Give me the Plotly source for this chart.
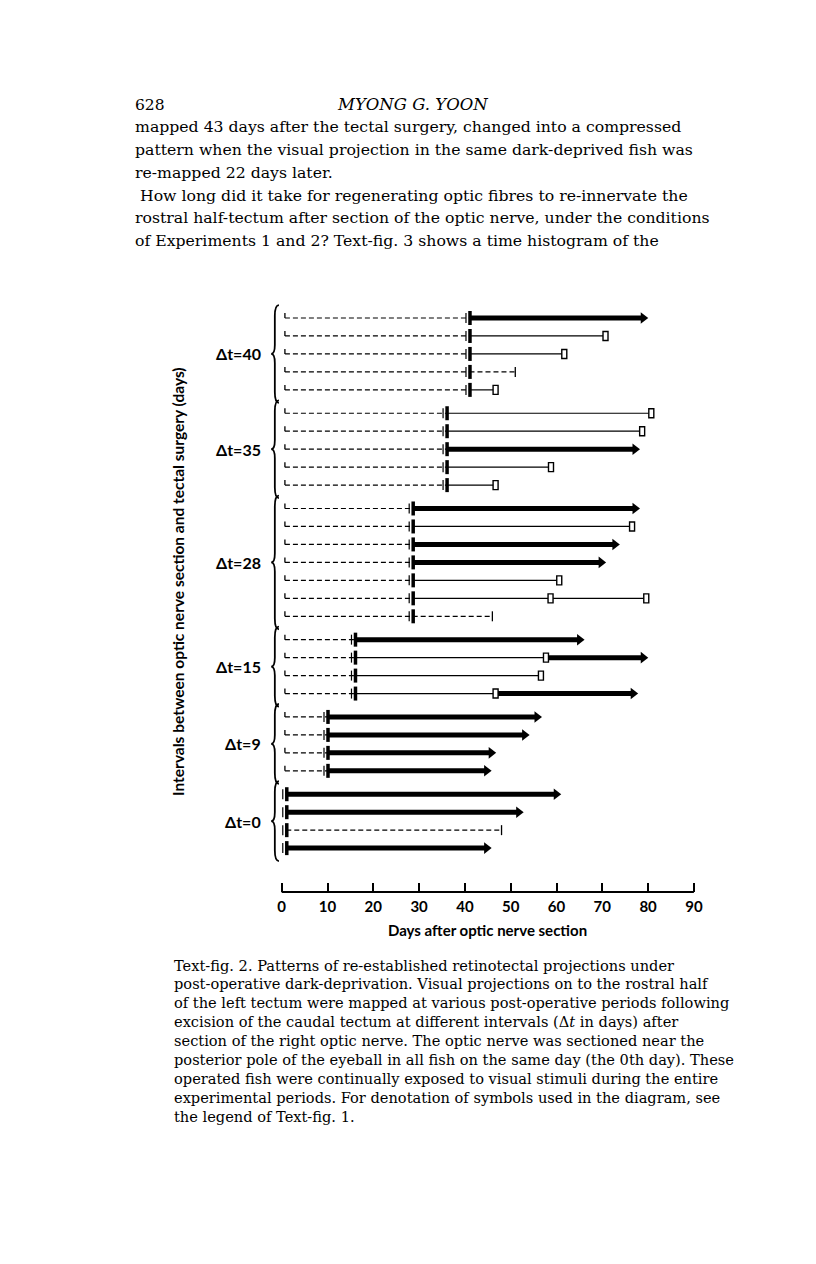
import math
import plotly.graph_objects as go

# ---- data (days after optic nerve section) ----
group_labels = ["Δt=40", "Δt=35", "Δt=28", "Δt=15", "Δt=9", "Δt=0"]
surgery_day = [41, 36, 28.6, 16, 10, 1]
start_day = 0.7

# after the surgery mark each row is a list of (kind, end day)
# thin -> ends with open box, thick -> ends with arrow, dash -> ends with a bar
rows_dt40 = [[("thick", 80.2)], [("thin", 70.7)], [("thin", 61.7)], [("dash", 51)], [("thin", 46.7)]]
rows_dt35 = [[("thin", 80.7)], [("thin", 78.7)], [("thick", 78.4)], [("thin", 58.8)], [("thin", 46.7)]]
rows_dt28 = [[("thick", 78.4)], [("thin", 76.5)], [("thick", 74)], [("thick", 71)], [("thin", 60.6)],
             [("thin", 58.7), ("thin", 79.6)], [("dash", 46)]]
rows_dt15 = [[("thick", 66.3)], [("thin", 57.7), ("thick", 80.2)], [("thin", 56.6)],
             [("thin", 46.7), ("thick", 78)]]
rows_dt9 = [[("thick", 57)], [("thick", 54.3)], [("thick", 47)], [("thick", 46)]]
rows_dt0 = [[("thick", 61.2)], [("thick", 53)], [("dash", 48)], [("thick", 46)]]
all_rows = [rows_dt40, rows_dt35, rows_dt28, rows_dt15, rows_dt9, rows_dt0]

x_ticks = [0, 10, 20, 30, 40, 50, 60, 70, 80, 90]

header_left = "628"
header_title = "<i>MYONG G. YOON</i>"
body_lines = [
    "mapped 43 days after the tectal surgery, changed into a compressed",
    "pattern when the visual projection in the same dark-deprived fish was",
    "re-mapped 22 days later.",
    " How long did it take for regenerating optic fibres to re-innervate the",
    "rostral half-tectum after section of the optic nerve, under the conditions",
    "of Experiments 1 and 2? Text-fig. 3 shows a time histogram of the",
]
caption_lines = [
    "Text-fig. 2. Patterns of re-established retinotectal projections under",
    "post-operative dark-deprivation. Visual projections on to the rostral half",
    "of the left tectum were mapped at various post-operative periods following",
    "excision of the caudal tectum at different intervals (Δ<i>t</i> in days) after",
    "section of the right optic nerve. The optic nerve was sectioned near the",
    "posterior pole of the eyeball in all fish on the same day (the 0th day). These",
    "operated fish were continually exposed to visual stimuli during the entire",
    "experimental periods. For denotation of symbols used in the diagram, see",
    "the legend of Text-fig. 1.",
]

# ---- page geometry (the page body adds an 8 px margin) ----
W, H = 816, 1264
OFF = 8
X0_PX, PX_DAY = 281.7 - OFF, 4.58
ROW0_PX, ROW_PX, GAP = 318 - OFF, 17.97, 1.3
AXIS_PX = 892

def px_x(p):
    return (p - OFF) / W

def px_y(p):
    return 1 - (p - OFF) / H

# row positions
row_y = []
y = 0.0
for gi, rows in enumerate(all_rows):
    if gi > 0:
        y += GAP
    ys = []
    for r in rows:
        ys.append(y)
        y += 1
    y -= 1
    row_y.append(ys)

fig = go.Figure()
shapes = []

dash_x, dash_y = [], []
thin_x, thin_y = [], []
thick_x, thick_y = [], []
head_x, head_y = [], []
HEAD_SIZE = 10
tip = (HEAD_SIZE / 2) * 2 / math.sqrt(3) / PX_DAY


def vbar(xv, yv, dx, half, width, up_only=False):
    shapes.append(dict(type="line", xref="x", yref="y", xsizemode="pixel", ysizemode="pixel",
                       xanchor=xv, yanchor=yv, x0=dx, x1=dx,
                       y0=0 if up_only else -half, y1=half,
                       line=dict(color="black", width=width)))


for gi, rows in enumerate(all_rows):
    s = surgery_day[gi]
    for ri, segs in enumerate(rows):
        yv = row_y[gi][ri]
        if s - start_day > 2:
            dash_x += [start_day, s, None]
            dash_y += [yv, yv, None]
            vbar(start_day, yv, 0, 5, 1.3, up_only=True)
        x_prev = s
        for kind, end in segs:
            if kind == "thin":
                thin_x += [x_prev, end, None]
                thin_y += [yv, yv, None]
                shapes.append(dict(type="rect", xref="x", yref="y", xsizemode="pixel", ysizemode="pixel",
                                   xanchor=end, yanchor=yv, x0=-2.5, x1=2.5, y0=-4.5, y1=4.5,
                                   fillcolor="white", line=dict(color="black", width=1.4)))
            elif kind == "thick":
                thick_x += [x_prev, end - tip, None]
                thick_y += [yv, yv, None]
                head_x.append(end - tip)
                head_y.append(yv)
            else:
                dash_x += [x_prev, end, None]
                dash_y += [yv, yv, None]
                vbar(end, yv, 0, 5, 1.3)
            x_prev = end
        # surgery mark: thin + thick bar
        vbar(s, yv, -3.5, 5, 1.2)
        vbar(s, yv, 0.5, 7, 3.5)

fig.add_trace(go.Scatter(x=dash_x, y=dash_y, mode="lines", cliponaxis=False,
                         line=dict(color="black", width=1.2, dash="5px,3px"), hoverinfo="skip"))
fig.add_trace(go.Scatter(x=thin_x, y=thin_y, mode="lines", cliponaxis=False,
                         line=dict(color="black", width=1.2), hoverinfo="skip"))
fig.add_trace(go.Scatter(x=thick_x, y=thick_y, mode="lines", cliponaxis=False,
                         line=dict(color="black", width=5), hoverinfo="skip"))
fig.add_trace(go.Scatter(x=head_x, y=head_y, mode="markers", cliponaxis=False,
                         marker=dict(symbol="triangle-right", size=HEAD_SIZE, color="black",
                                     line=dict(width=0)), hoverinfo="skip"))

# braces and group labels
annotations = []
for gi, ys in enumerate(row_y):
    top, bot = ys[0] - 0.72, ys[-1] + 0.72
    mid = (top + bot) / 2
    xe, xc, xt = -0.6, -1.5, -2.3
    path = (f"M {xe},{top} Q {xc},{top} {xc},{top + 0.6} L {xc},{mid - 0.5} "
            f"Q {xc},{mid} {xt},{mid} Q {xc},{mid} {xc},{mid + 0.5} "
            f"L {xc},{bot - 0.6} Q {xc},{bot} {xe},{bot}")
    shapes.append(dict(type="path", xref="x", yref="y", path=path,
                       line=dict(color="black", width=1.8)))
    annotations.append(dict(x=-4.0, y=mid, xref="x", yref="y", text=group_labels[gi],
                            xanchor="right", yanchor="middle", showarrow=False,
                            font=dict(family="Lato", size=16, color="black", weight="bold")))

# x axis line
shapes.append(dict(type="line", xref="x", yref="paper", x0=x_ticks[0], x1=x_ticks[-1],
                   y0=px_y(AXIS_PX), y1=px_y(AXIS_PX), line=dict(color="black", width=2)))

annotations.append(dict(x=45, y=px_y(930), xref="x", yref="paper", text="Days after optic nerve section",
                        showarrow=False, xanchor="center", yanchor="middle",
                        font=dict(family="Lato", size=15, color="black", weight="bold")))
annotations.append(dict(x=px_x(178), y=px_y(582), xref="paper", yref="paper", textangle=-90,
                        text="Intervals between optic nerve section and tectal surgery (days)",
                        showarrow=False, xanchor="center", yanchor="middle",
                        font=dict(family="Lato", size=15.5, color="black", weight="bold")))

# page text
serif = "DejaVu Serif"
annotations.append(dict(x=px_x(133), y=px_y(105), xref="paper", yref="paper", text=header_left,
                        showarrow=False, xanchor="left", yanchor="middle",
                        font=dict(family=serif, size=15.5, color="black")))
annotations.append(dict(x=px_x(412), y=px_y(105), xref="paper", yref="paper", text=header_title,
                        showarrow=False, xanchor="center", yanchor="middle",
                        font=dict(family=serif, size=16.5, color="black")))
for i, line in enumerate(body_lines):
    annotations.append(dict(x=px_x(133), y=px_y(127 + i * 22.7), xref="paper", yref="paper",
                            text=line, showarrow=False, xanchor="left", yanchor="middle",
                            font=dict(family=serif, size=15.7, color="black")))
for i, line in enumerate(caption_lines):
    annotations.append(dict(x=px_x(172), y=px_y(965 + i * 18.9), xref="paper", yref="paper",
                            text=line, showarrow=False, xanchor="left", yanchor="middle",
                            font=dict(family=serif, size=14.6, color="black")))

fig.update_layout(
    width=W, height=H,
    margin=dict(l=0, r=0, t=0, b=0),
    paper_bgcolor="white", plot_bgcolor="white",
    showlegend=False,
    shapes=shapes,
    annotations=annotations,
    xaxis=dict(domain=[0, 1], range=[-X0_PX / PX_DAY, (W - X0_PX) / PX_DAY],
               anchor="free", position=px_y(AXIS_PX), showgrid=False, zeroline=False,
               showline=False, tickmode="array", tickvals=x_ticks, ticks="inside",
               ticklen=9, tickwidth=2, tickcolor="black", ticklabelstandoff=4,
               tickfont=dict(family="Lato", size=15, color="black", weight="bold")),
    yaxis=dict(domain=[0, 1], range=[(H - ROW0_PX) / ROW_PX, -ROW0_PX / ROW_PX],
               visible=False, showgrid=False, zeroline=False),
)

fig.write_html("out.html")
